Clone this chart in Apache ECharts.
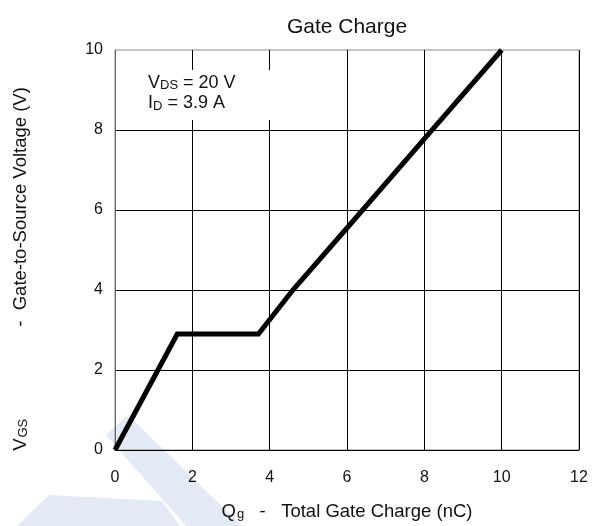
<!DOCTYPE html>
<html>
<head>
<meta charset="utf-8">
<script src="https://cdn.jsdelivr.net/npm/echarts@6/dist/echarts.min.js"></script>
<style>
html,body{margin:0;padding:0;background:#fff;}
#chart{width:592px;height:526px;}
</style>
</head>
<body>
<div id="chart"></div>
<script>
// Gate charge curve: total gate charge (nC) vs gate-to-source voltage (V)
const chargeNC = [0, 1.61, 3.71, 4.6, 6.0, 8.0, 10.0];
const vgsVolts = [0, 2.9, 2.9, 4.0, 5.55, 7.78, 10.0];
const xTicks = [0, 2, 4, 6, 8, 10, 12];
const yTicks = [0, 2, 4, 6, 8, 10];

const FONT = '"Liberation Sans", Arial, sans-serif';
const chart = echarts.init(document.getElementById('chart'), null, {renderer: 'canvas'});

const curve = chargeNC.map((q, i) => [q, vgsVolts[i]]);

// rich styles for names with subscripts
const nameRich = {
  m: {fontFamily: FONT, fontSize: 18.5, color: '#111', lineHeight: 22, verticalAlign: 'bottom'},
  s: {fontFamily: FONT, fontSize: 13, color: '#111', lineHeight: 14, verticalAlign: 'bottom', padding: [0, 0, 0, 1]},
  g: {width: 92}
};

chart.setOption({
  animation: false,
  backgroundColor: '#ffffff',
  textStyle: {fontFamily: FONT},
  title: {
    text: 'Gate Charge',
    left: 342, top: 12, textAlign: 'center',
    textStyle: {fontFamily: FONT, fontSize: 21, fontWeight: 'normal', color: '#111'}
  },
  grid: {
    left: 115, right: 13, top: 50, bottom: 72,
    show: true, borderColor: '#888', borderWidth: 1, backgroundColor: 'transparent'
  },
  xAxis: {
    type: 'value', min: xTicks[0], max: xTicks[xTicks.length - 1], interval: 2,
    name: '{m|Q}{s|g}{m|   -   Total Gate Charge (nC)}',
    nameLocation: 'middle', nameGap: 49,
    nameTextStyle: {rich: nameRich},
    axisLine: {show: true, lineStyle: {color: '#000', width: 1}},
    axisTick: {show: false},
    axisLabel: {fontFamily: FONT, fontSize: 16, color: '#111', margin: 20},
    splitLine: {show: true, lineStyle: {color: '#000', width: 1}}
  },
  yAxis: {
    type: 'value', min: yTicks[0], max: yTicks[yTicks.length - 1], interval: 2,
    name: '{m|V}{s|GS}{g|}{m|-  Gate-to-Source Voltage (V)}',
    nameLocation: 'middle', nameGap: 85, nameRotate: 90,
    nameTextStyle: {rich: nameRich, padding: [0, 38, 0, 0]},
    axisLine: {show: true, lineStyle: {color: '#666', width: 1}},
    axisTick: {show: false},
    axisLabel: {fontFamily: FONT, fontSize: 16, color: '#111', margin: 12},
    splitLine: {show: true, showMaxLine: false, lineStyle: {color: '#000', width: 1}}
  },
  graphic: [
    {
      type: 'polygon', z: -10, silent: true,
      shape: {points: [[106, 435], [128, 415], [242, 526], [186, 526]]},
      style: {fill: '#e3e9f5'}
    },
    {
      type: 'polygon', z: -10, silent: true,
      shape: {points: [[49, 495], [162, 501], [180, 526], [17, 526]]},
      style: {fill: '#e3e9f5'}
    },
    {
      // white panel behind the test-condition note
      type: 'rect', z: 9, silent: true,
      shape: {x: 120, y: 70, width: 170, height: 50},
      style: {fill: '#ffffff'}
    },
    {
      type: 'text', left: 148, top: 74, z: 10,
      style: {
        text: '{m|V}{s|DS}{m| = 20 V}\n{m|I}{s|D}{m| = 3.9 A}',
        rich: {
          m: {fontFamily: FONT, fontSize: 18, fill: '#111', lineHeight: 20.5, verticalAlign: 'bottom'},
          s: {fontFamily: FONT, fontSize: 13, fill: '#111', lineHeight: 13, verticalAlign: 'bottom'}
        }
      }
    }
  ],
  series: [{
    type: 'line',
    data: curve,
    showSymbol: false,
    symbol: 'none',
    lineStyle: {color: '#000', width: 5, join: 'miter'},
    z: 5
  }]
});
</script>
</body>
</html>
